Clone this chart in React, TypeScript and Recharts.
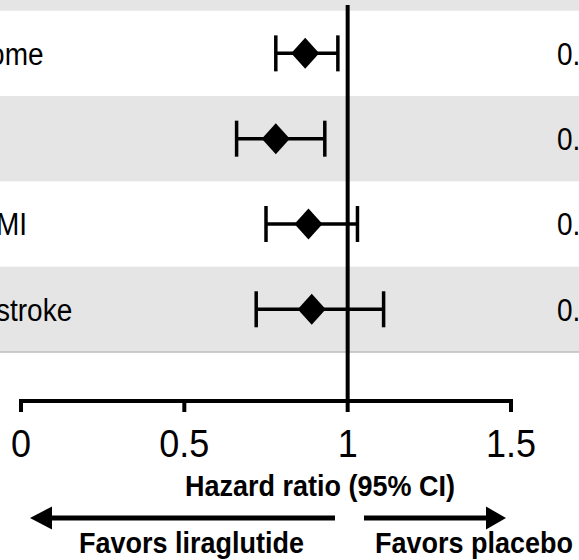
import {
  ScatterChart,
  Scatter,
  XAxis,
  YAxis,
  ErrorBar,
  ReferenceLine,
  ReferenceArea,
} from 'recharts';

// LEADER outcomes, liraglutide vs placebo
const outcomes = ['Primary outcome', 'CV death', 'Nonfatal MI', 'Nonfatal stroke'];
const outcomeLevel = [0, 1, 1, 1];
const hazardRatio = [0.87, 0.78, 0.88, 0.89];
const ciLower = [0.78, 0.66, 0.75, 0.72];
const ciUpper = [0.97, 0.93, 1.03, 1.11];
const xTicks = [0, 0.5, 1, 1.5];

const W = 579;
const H = 560;
const FONT = '"Liberation Sans", Arial, sans-serif';

const rows = outcomes.map((name, i) => ({
  name,
  level: outcomeLevel[i],
  row: i,
  hr: hazardRatio[i],
  err: [hazardRatio[i] - ciLower[i], ciUpper[i] - hazardRatio[i]],
  hrText: `${hazardRatio[i].toFixed(2)} (${ciLower[i].toFixed(2)}–${ciUpper[i].toFixed(2)})`,
}));

// header row above the table plus every other data row get the grey band
const bandRows = [-1, ...rows.filter((r) => r.row % 2 === 1).map((r) => r.row)];
const lastRow = rows.length - 1;

// text drawn slightly taller than wide, like the source figure
const Tall = ({ x, y, sy = 1.12, children, ...rest }: any) => (
  <text transform={`translate(${x},${y}) scale(1,${sy})`} {...rest}>
    {children}
  </text>
);

const Diamond = ({ cx, cy }: any) => (
  <path
    d={`M${cx},${cy - 15.5}L${cx + 14},${cy}L${cx},${cy + 15.5}L${cx - 14},${cy}Z`}
    fill="#000"
  />
);

const RowText = ({ cy, payload }: any) => (
  <g fontFamily={FONT} fontSize={28} fill="#000">
    <Tall x={payload.level ? -116 : -168} y={cy + 11.5} sy={1.1}>
      {payload.name}
    </Tall>
    <Tall x={557} y={cy + 11.5} sy={1.1}>
      {payload.hrText}
    </Tall>
  </g>
);

const Band = (edge: boolean) => (p: any) => (
  <g>
    <rect x={0} y={p.y} width={W} height={p.height} fill="#e5e5e5" />
    {edge && (
      <line x1={0} x2={W} y1={p.y + p.height} y2={p.y + p.height} stroke="#bdbdbd" strokeWidth={1.5} />
    )}
  </g>
);

const AxisTick = ({ x, y, payload }: any) => (
  <Tall x={x} y={y + 45} sy={1.08} textAnchor="middle" fontFamily={FONT} fontSize={36} fill="#000">
    {String(payload.value)}
  </Tall>
);

// axis title and the two direction arrows under the axis
const AxisNotes = () => (
  <g fontFamily={FONT} fontWeight="bold" fontSize={27} fill="#000">
    <Tall x={185} y={496}>Hazard ratio (95% CI)</Tall>
    <line x1={48} x2={335} y1={518} y2={518} stroke="#000" strokeWidth={5} />
    <path d="M30,518L52,506.5L52,529.5Z" fill="#000" />
    <line x1={364} x2={490} y1={518} y2={518} stroke="#000" strokeWidth={5} />
    <path d="M506,518L486,506.5L486,529.5Z" fill="#000" />
    <Tall x={79} y={553}>Favors liraglutide</Tall>
    <Tall x={375} y={553}>Favors placebo</Tall>
  </g>
);

export default function App() {
  return (
    <div style={{ position: 'absolute', left: 0, top: 0, width: W, height: H, overflow: 'hidden', background: '#fff' }}>
      <ScatterChart width={W} height={H} margin={{ top: 5, right: 68, bottom: 0, left: 21 }}>
        {bandRows.map((r) => (
          <ReferenceArea
            key={r}
            y1={r - 0.5}
            y2={r + 0.5}
            ifOverflow="visible"
            shape={Band(r === lastRow)}
          />
        ))}
        <XAxis
          type="number"
          dataKey="hr"
          domain={[0, 1.5]}
          ticks={xTicks}
          interval={0}
          height={159}
          tickSize={11}
          tickMargin={0}
          axisLine={{ stroke: '#000', strokeWidth: 4, strokeLinecap: 'square' }}
          tickLine={{ stroke: '#000', strokeWidth: 4 }}
          tick={<AxisTick />}
          label={<AxisNotes />}
        />
        <YAxis type="number" dataKey="row" domain={[-0.567, 4.075]} reversed hide />
        <ReferenceLine x={1} stroke="#000" strokeWidth={4} />
        <Scatter data={rows} shape={RowText} isAnimationActive={false} />
        <Scatter data={rows} shape={Diamond} isAnimationActive={false}>
          <ErrorBar
            dataKey="err"
            direction="x"
            width={18}
            stroke="#000"
            strokeWidth={3.5}
            isAnimationActive={false}
          />
        </Scatter>
      </ScatterChart>
    </div>
  );
}
